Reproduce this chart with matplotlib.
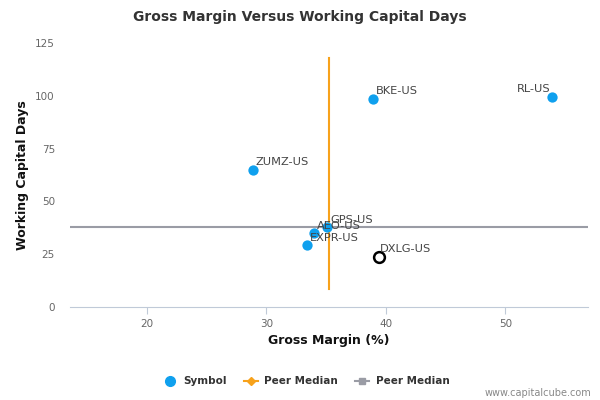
import matplotlib.pyplot as plt
from matplotlib.lines import Line2D

symbols = ['BKE-US', 'RL-US', 'ZUMZ-US', 'GPS-US', 'AEO-US', 'EXPR-US']
gross_margin = [38.9, 53.9, 28.9, 35.1, 34.0, 33.4]
wc_days = [98.6, 99.5, 65.1, 37.7, 34.9, 29.2]

target = 'DXLG-US'
target_gm = 39.4
target_wc = 23.6

median_gm = 35.2
median_wc = 37.7

blue = '#0fa0ee'
orange = '#f7a21b'
grey = '#9a9ca5'

fig = plt.figure(figsize=(6, 4), dpi=100)
ax = fig.add_axes([0.117, 0.2325, 0.863, 0.66])

ax.plot([median_gm, median_gm], [8.5, 118], color=orange, lw=1.5, zorder=1)
ax.plot([13.6, 56.9], [median_wc, median_wc], color=grey, lw=1.5, zorder=1)

ax.scatter(gross_margin, wc_days, s=55, color=blue, zorder=3, linewidths=0)
ax.scatter([target_gm], [target_wc], s=60, facecolors='white', edgecolors='black',
           linewidths=1.8, zorder=3)

lbl = dict(textcoords='offset points', fontsize=8.2, color='#444444', va='bottom')
for name, x, y in zip(symbols, gross_margin, wc_days):
    if name == 'RL-US':
        ax.annotate(name, (x, y), xytext=(-1, 2), ha='right', **lbl)
    else:
        ax.annotate(name, (x, y), xytext=(2, 2), ha='left', **lbl)
ax.annotate(target, (target_gm, target_wc), xytext=(1, 2), ha='left', **lbl)

ax.set_xlim(13.6, 56.9)
ax.set_ylim(0, 125)
ax.set_xticks([20, 30, 40, 50])
ax.set_yticks([0, 25, 50, 75, 100, 125])

for s in ['top', 'right', 'left']:
    ax.spines[s].set_visible(False)
ax.spines['bottom'].set_color('#c0cad8')
ax.tick_params(axis='x', colors='#c0cad8', length=5, labelcolor='#666666', labelsize=7.5)
ax.tick_params(axis='y', length=0, labelcolor='#666666', labelsize=7.5, pad=11)

ax.set_xlabel('Gross Margin (%)', fontsize=9, fontweight='bold', color='#111111')
ax.set_ylabel('Working Capital Days', fontsize=9, fontweight='bold', color='#111111')

fig.text(0.5, 0.957, 'Gross Margin Versus Working Capital Days', ha='center', va='center',
         fontsize=10, fontweight='bold', color='#333333')

handles = [
    Line2D([], [], marker='o', color=blue, ls='none', markersize=7),
    Line2D([], [], marker='D', color=orange, lw=1.5, markersize=4),
    Line2D([], [], marker='s', color=grey, lw=1.5, markersize=5),
]
leg = fig.legend(handles, ['Symbol', 'Peer Median', 'Peer Median'], loc='center',
                 bbox_to_anchor=(0.51, 0.047), ncol=3, frameon=False,
                 prop={'size': 7.5, 'weight': 'bold'}, handlelength=1.4,
                 handletextpad=0.6, columnspacing=1.6)
for t in leg.get_texts():
    t.set_color('#333333')

fig.text(0.985, 0.017, 'www.capitalcube.com', ha='right', va='center', fontsize=7,
         color='#888888')

fig.savefig('out.png', dpi=100)
